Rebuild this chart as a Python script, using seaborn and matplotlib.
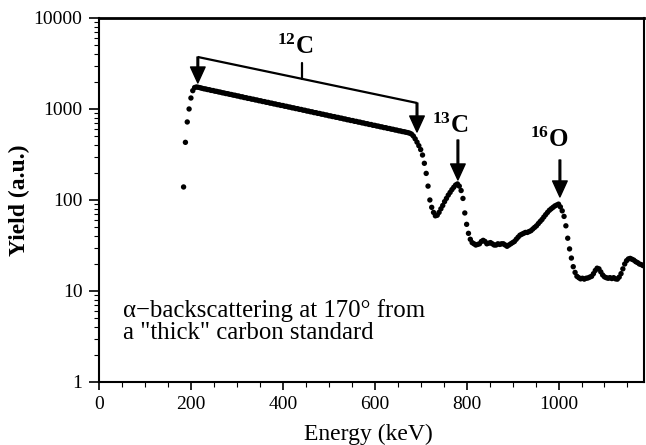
import numpy as np
import pandas as pd
import matplotlib
matplotlib.use("Agg")
import matplotlib.pyplot as plt
from matplotlib.ticker import FixedLocator, MultipleLocator, LogLocator, FuncFormatter, NullFormatter
import seaborn as sns

# ---------------- data ----------------
edge_keV = [184, 188, 192, 196, 200, 204, 208]
edge_yield = [139, 430, 720, 1000, 1320, 1590, 1720]

plateau_keV = [212, 216, 220, 224, 228, 232, 236, 240, 244, 248,
               252, 256, 260, 264, 268, 272, 276, 280, 284, 288,
               292, 296, 300, 304, 308, 312, 316, 320, 324, 328,
               332, 336, 340, 344, 348, 352, 356, 360, 364, 368,
               372, 376, 380, 384, 388, 392, 396, 400, 404, 408,
               412, 416, 420, 424, 428, 432, 436, 440, 444, 448,
               452, 456, 460, 464, 468, 472, 476, 480, 484, 488,
               492, 496, 500, 504, 508, 512, 516, 520, 524, 528,
               532, 536, 540, 544, 548, 552, 556, 560, 564, 568,
               572, 576, 580, 584, 588, 592, 596, 600, 604, 608,
               612, 616, 620, 624, 628, 632, 636, 640, 644, 648,
               652, 656, 660, 664, 668, 672, 676]
plateau_yield = [1745, 1730, 1712, 1690, 1668, 1660, 1635, 1628, 1600, 1595,
                 1570, 1562, 1540, 1532, 1508, 1500, 1478, 1472, 1450, 1442,
                 1420, 1415, 1392, 1388, 1362, 1360, 1335, 1330, 1308, 1305,
                 1282, 1280, 1258, 1255, 1232, 1230, 1208, 1205, 1184, 1182,
                 1160, 1158, 1138, 1135, 1116, 1112, 1094, 1092, 1072, 1070,
                 1052, 1048, 1030, 1028, 1010, 1008, 990, 988, 970, 968,
                 950, 948, 932, 930, 912, 911, 895, 893, 877, 875,
                 860, 858, 842, 840, 826, 824, 810, 808, 794, 792,
                 778, 776, 762, 760, 747, 746, 732, 731, 718, 717,
                 704, 702, 690, 688, 676, 675, 662, 661, 650, 648,
                 637, 635, 624, 623, 612, 610, 600, 598, 588, 586,
                 576, 574, 565, 562, 555, 550, 542]

drop_keV = [680, 684, 688, 692, 696, 700, 704, 708, 712, 716, 720, 724, 728, 732]
drop_yield = [530, 505, 470, 432, 395, 358, 312, 253, 196, 142, 100, 83, 73, 67]

c13_keV = [736, 740, 744, 748, 752, 756, 760, 764, 768, 772,
           776, 780, 784, 788, 792, 796, 800, 804, 808, 812,
           816, 820, 824, 828, 832, 836, 840, 844, 848, 852,
           856, 860, 864, 868, 872, 876, 880, 884, 888, 892, 896]
c13_yield = [68, 73, 80, 87, 96, 104, 113, 121, 130, 138,
             146, 150, 142, 127, 104, 72, 54, 43, 37, 34,
             33, 32, 32.5, 33, 35, 36, 35, 33, 33.5, 34,
             33, 32, 32, 33, 32.5, 33, 33, 32, 31, 32, 33]

o16_keV = [900, 904, 908, 912, 916, 920, 924, 928, 932, 936,
           940, 944, 948, 952, 956, 960, 964, 968, 972, 976,
           980, 984, 988, 992, 996, 1000]
o16_yield = [34, 35, 37, 39, 41, 42, 43, 44, 44, 45,
             46, 48, 50, 52, 55, 58, 61, 65, 69, 73,
             77, 80, 83, 86, 88, 90]

tail_keV = [1004, 1008, 1012, 1016, 1020, 1024, 1028, 1032, 1036, 1040,
            1044, 1048, 1052, 1056, 1060, 1064, 1068, 1072, 1076, 1080,
            1084, 1088, 1092, 1096, 1100, 1104, 1108, 1112, 1116, 1120,
            1124, 1128, 1132, 1136, 1140, 1144, 1148, 1152, 1156, 1160,
            1164, 1168, 1172, 1176, 1180, 1184]
tail_yield = [84, 76, 66, 52, 38, 29, 23, 18.5, 16, 14.5,
              14, 13.6, 13.8, 13.5, 13.8, 13.9, 14.2, 14.5, 15.5, 16.8,
              17.8, 17.5, 16.2, 15, 14.3, 14, 13.8, 14, 13.7, 14,
              13.6, 13.5, 14.2, 15.5, 17.5, 19.8, 21.5, 22.5, 22.8, 22.3,
              21.8, 21, 20.5, 19.8, 19.5, 19]

x_ticks = [0, 200, 400, 600, 800, 1000]
y_ticks = [1, 10, 100, 1000, 10000]
y_tick_labels = ["1", "10", "100", "1000", "10000"]

# annotation anchor values (data units)
c12_bracket_x = [215, 692]
c12_bracket_top = [3727, 1164]
c12_arrow_tip = [1931, 559]
c13_arrow = dict(x=781, tail=456, tip=166)
o16_arrow = dict(x=1003, tail=275, tip=108)

energy = edge_keV + plateau_keV + drop_keV + c13_keV + o16_keV + tail_keV
yields = edge_yield + plateau_yield + drop_yield + c13_yield + o16_yield + tail_yield
assert len(energy) == len(yields)
df = pd.DataFrame({"Energy": energy, "Yield": yields})

# ---------------- style ----------------
sns.set_theme(style="ticks")
plt.rcParams["font.family"] = ["Liberation Serif", "DejaVu Serif"]
plt.rcParams["mathtext.fontset"] = "custom"
plt.rcParams["mathtext.rm"] = "Liberation Serif"
plt.rcParams["mathtext.bf"] = "Liberation Serif:bold"
plt.rcParams["axes.linewidth"] = 1.5
plt.rcParams["text.color"] = "black"
plt.rcParams["axes.labelcolor"] = "black"
plt.rcParams["xtick.color"] = "black"
plt.rcParams["ytick.color"] = "black"
plt.rcParams["axes.edgecolor"] = "black"

fig = plt.figure(figsize=(6.46, 4.45), dpi=100)
ax = fig.add_axes([0.1533, 0.1416, 0.8436, 0.818])

sns.scatterplot(data=df, x="Energy", y="Yield", ax=ax, color="black",
                s=15, edgecolor="none", linewidth=0, legend=False)

ax.set_yscale("log")
ax.set_xlim(0, 1186)
ax.set_ylim(1, 10000)

ax.xaxis.set_major_locator(FixedLocator(x_ticks))
ax.xaxis.set_minor_locator(MultipleLocator(50))
ax.yaxis.set_major_locator(FixedLocator(y_ticks))
ax.yaxis.set_major_formatter(FuncFormatter(lambda v, p: y_tick_labels[y_ticks.index(int(round(v)))] if int(round(v)) in y_ticks else ""))
ax.yaxis.set_minor_locator(LogLocator(base=10, subs=np.arange(2, 10)))
ax.yaxis.set_minor_formatter(NullFormatter())

ax.tick_params(axis="both", which="major", direction="out", labelsize=14,
               colors="black", width=1.2, length=6, pad=4)
ax.tick_params(axis="y", which="major", length=7, pad=5)
ax.tick_params(axis="both", which="minor", direction="out", width=0.8, length=3.5)
for s in ax.spines.values():
    s.set_color("black")
    s.set_linewidth(1.5)
ax.spines["top"].set_linewidth(2)

ax.set_xlabel("Energy (keV)", fontsize=17, color="black")
ax.set_ylabel("Yield (a.u.)", fontsize=17, fontweight="bold", color="black")
ax.xaxis.set_label_coords(0.495, -0.114)
ax.yaxis.set_label_coords(-0.127, 0.5)

# ---------------- annotations ----------------
arrow_kw = dict(facecolor="black", edgecolor="black", width=1.2,
                headwidth=10.5, headlength=11.5, shrink=0)
# 12C bracket
ax.plot(c12_bracket_x, c12_bracket_top, color="black", lw=1.6, solid_capstyle="butt")
ax.annotate("", xy=(c12_bracket_x[0], c12_arrow_tip[0]),
            xytext=(c12_bracket_x[0], c12_bracket_top[0]), arrowprops=arrow_kw)
ax.annotate("", xy=(c12_bracket_x[1], c12_arrow_tip[1]),
            xytext=(c12_bracket_x[1], c12_bracket_top[1]), arrowprops=arrow_kw)
mid_x = 442
mid_y = 10 ** np.interp(mid_x, c12_bracket_x, np.log10(c12_bracket_top))
ax.plot([mid_x, mid_x], [mid_y, 3202], color="black", lw=1.6)
ax.text(427, 4000, r"$\mathbf{^{12}C}$", fontsize=18, ha="center", va="baseline", color="black")

# 13C arrow
ax.annotate("", xy=(c13_arrow["x"], c13_arrow["tip"]),
            xytext=(c13_arrow["x"], c13_arrow["tail"]), arrowprops=arrow_kw)
ax.text(764, 545, r"$\mathbf{^{13}C}$", fontsize=18, ha="center", va="baseline", color="black")

# 16O arrow
ax.annotate("", xy=(o16_arrow["x"], o16_arrow["tip"]),
            xytext=(o16_arrow["x"], o16_arrow["tail"]), arrowprops=arrow_kw)
ax.text(979, 382, r"$\mathbf{^{16}O}$", fontsize=18, ha="center", va="baseline", color="black")

ax.text(0.044, 0.228, "\u03b1\u2212backscattering at 170\u00b0 from\na \"thick\" carbon standard",
        transform=ax.transAxes, fontsize=17.8, ha="left", va="top", linespacing=1.0,
        color="black")

fig.savefig("out.png", dpi=100)
